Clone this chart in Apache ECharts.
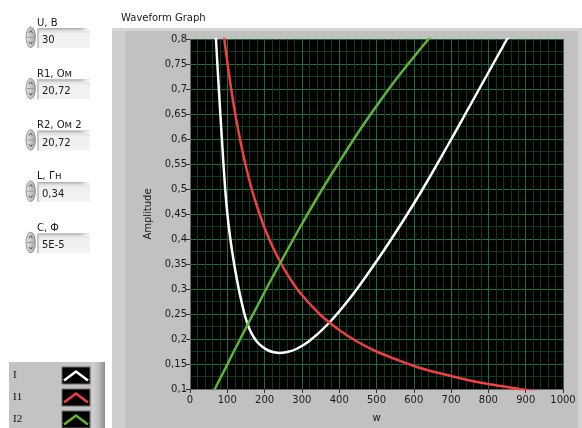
<!DOCTYPE html>
<html><head><meta charset="utf-8">
<style>html,body{margin:0;padding:0;background:#fff;}#c{width:582px;height:428px;}</style>
<script src="https://cdn.jsdelivr.net/npm/echarts@6/dist/echarts.min.js"></script>
</head><body><div id="c"></div>
<script>
// ---- data ----
const seriesNames = ['I', 'I1', 'I2'];
const seriesColors = ['#ffffff', '#f23f3f', '#5fb535'];
// total current I (white)
const wTotal = [62, 69.6, 77.3, 85.5, 94.3, 100.2, 108.2, 118.4, 130.7, 138, 145.7, 152, 160, 171, 182, 195, 210, 225, 240, 260, 285, 320, 370, 425, 480, 540, 620, 700, 750, 800, 850, 880];
const iTotal = [0.90, 0.80, 0.70, 0.60, 0.50, 0.45, 0.40, 0.35, 0.30, 0.275, 0.251, 0.235, 0.219, 0.2035, 0.1925, 0.184, 0.177, 0.1735, 0.172, 0.174, 0.180, 0.196, 0.230, 0.278, 0.334, 0.400, 0.495, 0.599, 0.666, 0.733, 0.800, 0.840];
// branch currents I1 (red) and I2 (green)
const wBranch = [50, 60, 70, 80, 90, 100, 110, 120, 130, 140, 150, 160, 175, 200, 225, 250, 275, 300, 350, 400, 450, 500, 550, 600, 650, 700, 750, 800, 850, 900, 950, 1000];
const iBranch1 = [1.119, 1.032, 0.951, 0.877, 0.812, 0.754, 0.702, 0.656, 0.615, 0.578, 0.545, 0.515, 0.476, 0.422, 0.379, 0.343, 0.313, 0.288, 0.248, 0.218, 0.194, 0.175, 0.160, 0.146, 0.135, 0.126, 0.117, 0.110, 0.104, 0.098, 0.093, 0.088];
const iBranch2 = [0.075, 0.090, 0.105, 0.120, 0.134, 0.149, 0.164, 0.179, 0.193, 0.208, 0.222, 0.237, 0.258, 0.294, 0.329, 0.363, 0.397, 0.430, 0.494, 0.554, 0.612, 0.666, 0.717, 0.764, 0.809, 0.850, 0.888, 0.924, 0.957, 0.987, 1.016, 1.042];
const controlLabels = ['U, В', 'R1, Ом', 'R2, Ом 2', 'L, Гн', 'C, Ф'];
const controlValues = ['30', '20,72', '20,72', '0,34', '5E-5'];
const chartTitle = 'Waveform Graph';
const xName = 'w';
const yName = 'Amplitude';

// ---- drawing ----
const FONT = '"DejaVu Sans", Verdana, sans-serif';
const SERIF = '"Liberation Serif", "DejaVu Serif", serif';
const TXT = '#1a1a1a';

function txt(x, y, s, opts) {
  opts = opts || {};
  return {
    type: 'text', z: opts.z || 5,
    style: {
      x: x, y: y, text: s,
      fontFamily: opts.family || FONT, fontSize: opts.size || 10,
      fill: opts.fill || TXT,
      textAlign: opts.align || 'left', align: opts.align || 'left',
      textVerticalAlign: 'middle', verticalAlign: 'middle'
    }
  };
}

const g = [];
// graph frame
g.push({ type: 'rect', z: -100, shape: { x: 112, y: 28, width: 470, height: 400 }, style: { fill: '#c1c1c1' } });
g.push({ type: 'rect', z: -99, shape: { x: 112, y: 28, width: 13, height: 400 }, style: { fill: '#cecece' } });
g.push({ type: 'rect', z: -99, shape: { x: 112, y: 28, width: 466, height: 3 }, style: { fill: '#d6d6d6' } });
g.push({ type: 'rect', z: -99, shape: { x: 578, y: 28, width: 4, height: 400 }, style: { fill: '#d2d2d2' } });
g.push(txt(121, 18, chartTitle));

// numeric controls
controlLabels.forEach((lab, i) => {
  const oy = i * 51.3;
  g.push(txt(37, 23 + oy, lab));
  g.push({ type: 'rect', z: 1, shape: { x: 37, y: 28 + oy, width: 53, height: 20 },
    style: { fill: { type: 'linear', x: 0, y: 0, x2: 0, y2: 1, colorStops: [
      { offset: 0, color: '#a9a9a9' }, { offset: 0.15, color: '#e2e2e2' }, { offset: 0.3, color: '#f0f0f0' }, { offset: 1, color: '#f3f3f3' }] } } });
  g.push({ type: 'rect', z: 2, shape: { x: 37, y: 28 + oy, width: 2, height: 20 }, style: { fill: '#c8c8c8' } });
  g.push({ type: 'rect', z: 2, shape: { x: 80, y: 28 + oy, width: 10, height: 3 },
    style: { fill: { type: 'linear', x: 0, y: 0, x2: 1, y2: 0, colorStops: [{ offset: 0, color: 'rgba(255,255,255,0)' }, { offset: 1, color: '#ffffff' }] } } });
  g.push(txt(42, 40.5 + oy, controlValues[i]));
  g.push({ type: 'ellipse', z: 2, shape: { cx: 30.7, cy: 37.3 + oy, rx: 4.6, ry: 10.2 },
    style: { fill: { type: 'linear', x: 0, y: 0, x2: 1, y2: 0, colorStops: [{ offset: 0, color: '#ececec' }, { offset: 1, color: '#a4a4a4' }] }, stroke: '#8e8e8e', lineWidth: 1 } });
  g.push({ type: 'polyline', z: 3, shape: { points: [[28.8, 33 + oy], [30.7, 30.5 + oy], [32.4, 33 + oy]] }, style: { stroke: '#555', lineWidth: 1, fill: null } });
  g.push({ type: 'polyline', z: 3, shape: { points: [[28.8, 41.5 + oy], [30.7, 44 + oy], [32.4, 41.5 + oy]] }, style: { stroke: '#555', lineWidth: 1, fill: null } });
  g.push({ type: 'line', z: 3, shape: { x1: 27, y1: 37.3 + oy, x2: 34.5, y2: 37.3 + oy }, style: { stroke: '#9a9a9a', lineWidth: 1 } });
});

// plot legend
g.push({ type: 'rect', z: 1, shape: { x: 9, y: 362, width: 96, height: 66 }, style: { fill: '#c3c3c3' } });
g.push({ type: 'rect', z: 2, shape: { x: 92, y: 362, width: 13, height: 66 },
  style: { fill: { type: 'linear', x: 0, y: 0, x2: 1, y2: 0, colorStops: [{ offset: 0, color: '#d4d4d4' }, { offset: 0.5, color: '#bdbdbd' }, { offset: 1, color: '#8c8c8c' }] } } });
seriesNames.forEach((nm, i) => {
  const oy = i * 22;
  g.push(txt(13, 375 + oy, nm, { family: SERIF, size: 11, fill: '#111' }));
  g.push({ type: 'rect', z: 3, shape: { x: 62, y: 367 + oy, width: 28, height: 17 }, style: { fill: '#000', stroke: '#6f6f6f', lineWidth: 1 } });
  g.push({ type: 'polyline', z: 4, shape: { points: [[64, 380.5 + oy], [76, 371.5 + oy], [88, 380.5 + oy]] }, style: { stroke: seriesColors[i], lineWidth: 2.5, fill: null } });
});

const yFmt = v => String(Math.round(v * 100) / 100).replace('.', ',');
const xFmt = v => String(Math.round(v));

const option = {
  animation: false,
  backgroundColor: '#ffffff',
  graphic: { elements: g },
  grid: { left: 190, top: 39, width: 373, height: 353, show: true, backgroundColor: '#000000', borderWidth: 0 },
  xAxis: {
    type: 'value', min: 0, max: 1000, interval: 100,
    name: xName, nameLocation: 'middle', nameGap: 24,
    nameTextStyle: { color: TXT, fontFamily: FONT, fontSize: 10 },
    axisLine: { show: true, onZero: false, lineStyle: { color: '#6a6a6a' } },
    axisTick: { show: true, length: 4, lineStyle: { color: '#333' } },
    axisLabel: { color: TXT, fontFamily: FONT, fontSize: 10, margin: 6, formatter: xFmt },
    splitLine: { show: true, lineStyle: { color: '#1b6e36', width: 1 } },
    minorTick: { show: false, splitNumber: 5 },
    minorSplitLine: { show: true, lineStyle: { color: '#0e3b1b', width: 1 } }
  },
  yAxis: {
    type: 'value', min: 0.1, max: 0.8, interval: 0.05,
    name: yName, nameLocation: 'middle', nameGap: 35,
    nameTextStyle: { color: TXT, fontFamily: FONT, fontSize: 10 },
    axisLine: { show: true, lineStyle: { color: '#6a6a6a' } },
    axisTick: { show: true, length: 4, lineStyle: { color: '#333' } },
    axisLabel: { color: TXT, fontFamily: FONT, fontSize: 10, margin: 3, formatter: yFmt },
    splitLine: { show: true, lineStyle: { color: '#1b6e36', width: 1 } },
    minorTick: { show: false, splitNumber: 2 },
    minorSplitLine: { show: true, lineStyle: { color: '#0e3b1b', width: 1 } }
  },
  series: [
    { name: seriesNames[0], type: 'line', smooth: 0.4, data: wTotal.map((w, i) => [w, iTotal[i]]) },
    { name: seriesNames[1], type: 'line', smooth: 0.35, data: wBranch.map((w, i) => [w, iBranch1[i]]) },
    { name: seriesNames[2], type: 'line', smooth: 0.35, data: wBranch.map((w, i) => [w, iBranch2[i]]) }
  ].map((s, i) => Object.assign(s, {
    showSymbol: false, symbol: 'none', clip: true,
    lineStyle: { color: seriesColors[i], width: 2.5 }, itemStyle: { color: seriesColors[i] }
  }))
};
const chart = echarts.init(document.getElementById('c'), null, { renderer: 'canvas' });
chart.setOption(option);
</script>
</body></html>
